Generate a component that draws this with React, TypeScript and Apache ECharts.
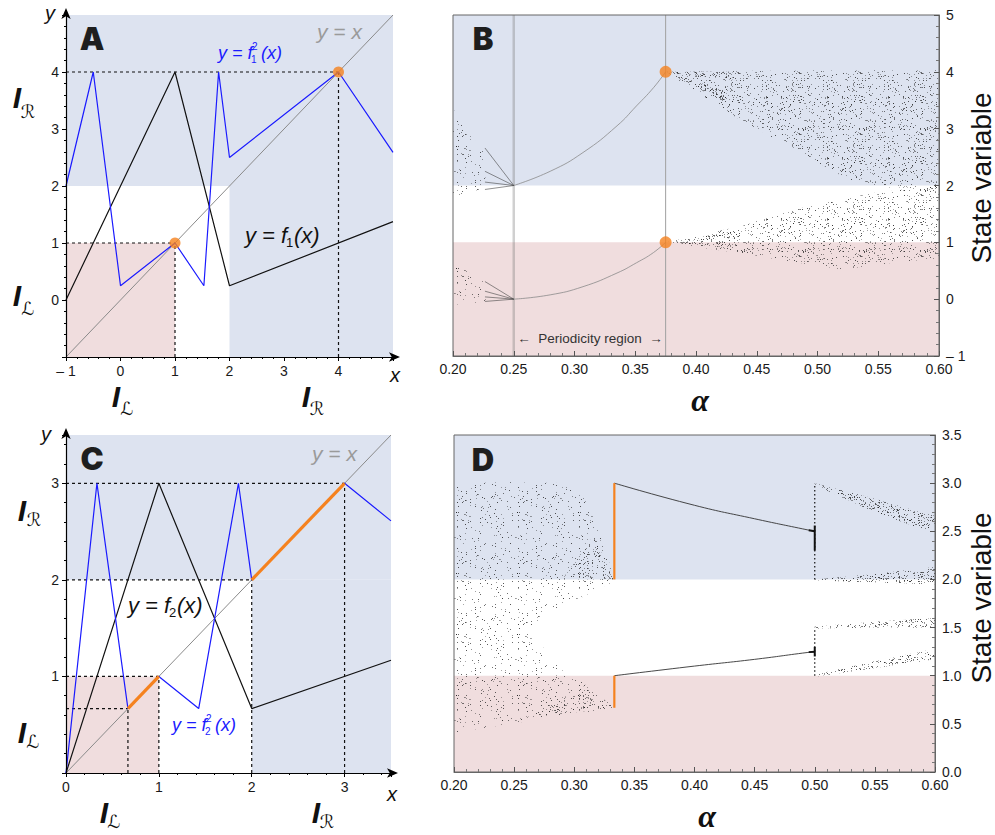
import React, { useEffect, useRef } from 'react';
import * as echarts from 'echarts';

// ---------- Panel A data ----------
const f1Pts = [[-1, 0], [1, 4], [2, 0.25], [5, 1.375]];
const f1sqPts = [[-1, 2], [-0.5, 4], [0, 0.25], [1, 1], [1.53, 0.25], [1.8, 4], [2, 2.5], [4, 4], [5, 2.59]];
const diagA = [[-1, -1], [5, 5]];
const dashA = [[[-1, 4], [4, 4]], [[4, -1], [4, 4]], [[-1, 1], [1, 1]], [[1, -1], [1, 1]]];
const fixedA = [[1, 1], [4, 4]];
const shadeA = [[-1, 2, 5, 5, 0], [2, -1, 5, 2, 0], [-1, -1, 1, 1, 1]];

// ---------- Panel C data ----------
const f2Pts = [[0, 0], [1, 3], [2, 0.667], [3.5, 1.167]];
const f2sqPts = [[0, 0], [0.333, 3], [0.667, 0.667], [1, 1], [1.429, 0.667], [1.857, 3], [2, 2], [3, 3], [3.5, 2.611]];
const diagC = [[0, 0], [3.5, 3.5]];
const dashC = [[[0, 3], [3, 3]], [[3, 0], [3, 3]], [[0, 2], [2, 2]], [[2, 0], [2, 2]], [[0, 1], [1, 1]], [[1, 0], [1, 1]], [[0, 0.667], [0.667, 0.667]], [[0.667, 0], [0.667, 0.667]]];
const orangeC = [[[0.667, 0.667], [1, 1]], [[2, 2], [3, 3]]];
const shadeC = [[0, 2, 3.5, 3.5, 0], [2, 0, 3.5, 2, 0], [0, 0, 1, 1, 1]];

// ---------- Panel B data ----------
const shadeB = [[0.2, 2, 0.6, 5, 0], [0.2, -1, 0.6, 1, 1]];
const vlinesB = [[[0.25, -1], [0.25, 5]], [[0.375, -1], [0.375, 5]]];
const curveBU = [[0.25, 2], [0.28, 2.25], [0.307, 2.58], [0.335, 3.05], [0.351, 3.4], [0.365, 3.72], [0.375, 4]];
const curveBL = [[0.25, 0], [0.28, 0.076], [0.307, 0.22], [0.335, 0.46], [0.351, 0.64], [0.365, 0.82], [0.375, 1]];
const fanBU = [[0.2263, 2.66], [0.2263, 2.25], [0.2263, 2.06], [0.2263, 1.93]];
const fanBUEnd = [0.25, 2];
const fanBL = [[0.2263, 0.31], [0.2263, 0.14], [0.2263, 0.04], [0.2263, -0.04]];
const fanBLEnd = [0.25, 0];
const cloudBUL = [[0.2, 3.34], [0.206, 3.22], [0.214, 2.87], [0.226, 2.62], [0.227, 1.95], [0.2, 1.81]];
const cloudBLL = [[0.2, 0.69], [0.207, 0.58], [0.214, 0.45], [0.226, 0.31], [0.227, -0.04], [0.2, -0.1]];
const cloudBUR = [[0.375, 4.0], [0.45, 4.02], [0.52, 4.03], [0.6, 4.03], [0.6, 1.95], [0.555, 1.97], [0.53, 2.05], [0.491, 2.52], [0.436, 3.16]];
const cloudBLR = [[0.375, 1.0], [0.436, 1.28], [0.491, 1.63], [0.546, 1.87], [0.584, 1.96], [0.6, 2.0], [0.6, 0.72], [0.584, 0.69], [0.546, 0.6], [0.521, 0.52], [0.491, 0.62], [0.436, 0.81]];
const denseB = [
  [[0.375, 4], [0.43, 4.0], [0.43, 3.86]],
  [[0.375, 4], [0.425, 3.66], [0.425, 3.45]],
  [[0.375, 1], [0.435, 1.2], [0.435, 1.08]],
  [[0.375, 1], [0.435, 1.0], [0.435, 0.9]],
];
const dotsB = [[0.375, 4], [0.375, 1]];

// ---------- Panel D data ----------
const shadeD = [[0.2, 2, 0.6, 3.5, 0], [0.2, 0, 0.6, 1, 1]];
const cloudDU = [[0.2, 3.0], [0.25, 3.01], [0.3, 3.0], [0.315, 2.7], [0.325, 2.35], [0.3333, 2.0], [0.2, 2.0]];
const cloudDM = [[0.2, 2.0], [0.333, 2.0], [0.3297, 1.96], [0.28, 1.65], [0.2577, 1.47], [0.28, 1.23], [0.2937, 1.0], [0.2, 1.0]];
const cloudDL = [[0.2, 1.0], [0.3, 1.0], [0.315, 0.85], [0.3333, 0.667], [0.2, 0.41]];
const mediumD = [
  [[0.26, 0.56], [0.31, 0.9], [0.3333, 0.667]],
  [[0.29, 2.0], [0.316, 2.45], [0.3333, 2.0]],
];
const denseD = [
  [[0.5, 3.0], [0.546, 2.85], [0.5875, 2.7], [0.6, 2.66], [0.6, 2.5], [0.5875, 2.53], [0.546, 2.72], [0.5, 2.98]],
  [[0.5, 2.0], [0.546, 2.05], [0.6, 2.13], [0.6, 1.95], [0.546, 1.97], [0.5, 1.99]],
  [[0.5, 1.51], [0.55, 1.56], [0.6, 1.6], [0.6, 1.5], [0.55, 1.5], [0.5, 1.49]],
  [[0.5, 1.01], [0.55, 1.15], [0.6, 1.28], [0.6, 1.17], [0.55, 1.08], [0.5, 0.99]],
];
const lineDU = [[0.3333, 3.0], [0.4, 2.77], [0.45, 2.63], [0.49, 2.525], [0.5, 2.5]];
const lineDL = [[0.3333, 1.0], [0.4, 1.1], [0.45, 1.17], [0.49, 1.235], [0.5, 1.25]];
const dottedD = [[[0.5, 2.0], [0.5, 3.0]], [[0.5, 1.0], [0.5, 1.5]]];
const thickD = [[[0.5, 2.3], [0.5, 2.56]], [[0.5, 1.2], [0.5, 1.3]], [[0.495, 2.51], [0.5, 2.5]], [[0.495, 1.245], [0.5, 1.25]]];
const orangeD = [[[1 / 3, 2], [1 / 3, 3]], [[1 / 3, 0.667], [1 / 3, 1]]];

// ---------- tick settings ----------
const alphaTicks = [0.2, 0.6, 0.05];

const BLUE_BG = '#dde3f0';
const PINK_BG = '#f0ddde';
const ORANGE = '#f5821f';
const CURVE_BLUE = '#1a1aff';
const SHADE_COLORS = [BLUE_BG, PINK_BG];

// stipple texture (style only): hashed pixel positions inside a tile
function makePattern(n: number, size: number, alpha: number, seed: number): string {
  const c = document.createElement('canvas');
  c.width = size;
  c.height = size;
  const ctx = c.getContext('2d')!;
  for (let i = 0; i < n; i++) {
    let h = Math.imul(i + seed * 977 + 1, 2654435761) >>> 0;
    h ^= h >>> 15;
    h = Math.imul(h, 2246822519) >>> 0;
    h ^= h >>> 13;
    h = Math.imul(h, 3266489917) >>> 0;
    h ^= h >>> 16;
    const x = h % size;
    const y = Math.floor(h / size) % size;
    const a = alpha * (0.45 + ((h >>> 24) % 55) / 100);
    ctx.fillStyle = `rgba(30,30,30,${a.toFixed(3)})`;
    ctx.fillRect(x, y, 1, 1);
  }
  return c.toDataURL();
}

function buildOption() {
  const S = 61;
  const patterns = [
    { image: makePattern(300, S, 0.8, 1), repeat: 'repeat', imageWidth: S, imageHeight: S },
    { image: makePattern(620, S, 0.8, 2), repeat: 'repeat', imageWidth: S, imageHeight: S },
    { image: makePattern(1300, S, 0.85, 3), repeat: 'repeat', imageWidth: S, imageHeight: S },
  ];

  const series: any[] = [];
  const base = (g: number) => ({ xAxisIndex: g, yAxisIndex: g, silent: true, animation: false });

  const shadeSeries = (g: number, arr: number[][]) => ({
    ...base(g),
    type: 'custom',
    z: 1,
    data: arr.map((r) => [r[0], r[1]]),
    renderItem: (params: any, api: any) => {
      const r = arr[params.dataIndex];
      const p0 = api.coord([r[0], r[1]]);
      const p1 = api.coord([r[2], r[3]]);
      return {
        type: 'rect',
        shape: { x: Math.min(p0[0], p1[0]), y: Math.min(p0[1], p1[1]), width: Math.abs(p1[0] - p0[0]), height: Math.abs(p1[1] - p0[1]) },
        style: { fill: SHADE_COLORS[r[4]] },
      };
    },
  });

  const polySeries = (g: number, polys: number[][][], dens: number, z = 2) => ({
    ...base(g),
    type: 'custom',
    z,
    data: polys.map((p) => [p[0][0], p[0][1]]),
    renderItem: (params: any, api: any) => {
      const pts = polys[params.dataIndex].map((p) => api.coord(p));
      return { type: 'polygon', shape: { points: pts }, style: { fill: patterns[dens] as any, stroke: 'none' } };
    },
  });

  const line = (g: number, pts: number[][], color: string, width: number, z = 3, type: any = 'solid', smooth = false) => ({
    ...base(g),
    type: 'line',
    data: pts,
    symbol: 'none',
    smooth,
    z,
    lineStyle: { color, width, type },
  });

  // Panel A
  series.push(shadeSeries(0, shadeA));
  dashA.forEach((s) => series.push(line(0, s, '#111', 1.2, 3, [3, 3])));
  series.push(line(0, diagA, '#8a8a8a', 1, 3));
  series.push(line(0, f1Pts, '#111', 1.2, 4));
  series.push(line(0, f1sqPts, CURVE_BLUE, 1.2, 4));
  series.push({ ...base(0), type: 'scatter', data: fixedA, symbolSize: 11, itemStyle: { color: ORANGE }, z: 6 });

  // Panel C
  series.push(shadeSeries(2, shadeC));
  dashC.forEach((s) => series.push(line(2, s, '#111', 1.2, 3, [3, 3])));
  series.push(line(2, diagC, '#8a8a8a', 1, 3));
  series.push(line(2, f2Pts, '#111', 1.2, 4));
  series.push(line(2, f2sqPts, CURVE_BLUE, 1.2, 4));
  orangeC.forEach((s) => series.push(line(2, s, ORANGE, 3.2, 5)));

  // Panel B
  series.push(shadeSeries(1, shadeB));
  series.push(polySeries(1, [cloudBUL, cloudBLL], 0));
  series.push(polySeries(1, [cloudBUR, cloudBLR], 1));
  series.push(polySeries(1, denseB, 2));
  series.push(line(1, vlinesB[0], 'rgba(120,120,120,0.35)', 2.5, 3));
  series.push(line(1, vlinesB[1], '#a0a0a0', 1, 3));
  series.push(line(1, curveBU, '#8a8a8a', 0.8, 4, 'solid', true));
  series.push(line(1, curveBL, '#8a8a8a', 0.8, 4, 'solid', true));
  fanBU.forEach((p) => series.push(line(1, [p, fanBUEnd], '#444', 0.6, 4)));
  fanBL.forEach((p) => series.push(line(1, [p, fanBLEnd], '#444', 0.6, 4)));
  series.push({ ...base(1), type: 'scatter', data: dotsB, symbolSize: 12, itemStyle: { color: ORANGE }, z: 6 });

  // Panel D
  series.push(shadeSeries(3, shadeD));
  series.push(polySeries(3, [cloudDU, cloudDM, cloudDL], 0));
  series.push(polySeries(3, mediumD, 1));
  series.push(polySeries(3, denseD, 2));
  series.push(line(3, lineDU, '#333', 0.9, 4, 'solid', true));
  series.push(line(3, lineDL, '#333', 0.9, 4, 'solid', true));
  dottedD.forEach((s) => series.push(line(3, s, '#111', 1.2, 4, [1.5, 2.5])));
  thickD.forEach((s) => series.push(line(3, s, '#111', 2, 4)));
  orangeD.forEach((s) => series.push(line(3, s, ORANGE, 2.2, 5)));

  const labelFont = { fontFamily: 'Liberation Sans', fontSize: 14, color: '#1a1a1a' };

  const arrowAxis = (g: number, min: number, max: number, fmt: (v: number) => string) => ({
    gridIndex: g,
    type: 'value',
    min,
    max,
    interval: 1,
    z: 10,
    axisLine: {
      onZero: false,
      lineStyle: { color: '#000', width: 1.2 },
      symbol: ['none', 'arrow'],
      symbolSize: [7, 11],
      symbolOffset: [0, 7],
    },
    axisTick: { show: true, length: 4, lineStyle: { color: '#000' } },
    minorTick: { show: true, splitNumber: 5, length: 2, lineStyle: { color: '#000' } },
    splitLine: { show: false },
    axisLabel: { ...labelFont, formatter: fmt, margin: 7 },
  });

  const frameX = (g: number) => ({
    gridIndex: g,
    type: 'value',
    min: alphaTicks[0],
    max: alphaTicks[1],
    interval: alphaTicks[2],
    z: 10,
    axisLine: { onZero: false, lineStyle: { color: '#666', width: 1 } },
    axisTick: { inside: true, length: 5, lineStyle: { color: '#555' } },
    minorTick: { show: true, splitNumber: 5, length: 3, lineStyle: { color: '#777' } },
    splitLine: { show: false },
    axisLabel: { ...labelFont, margin: 6, formatter: (v: number) => v.toFixed(2) },
  });

  const frameY = (g: number, min: number, max: number, interval: number, fmt: (v: number) => string) => ({
    gridIndex: g,
    type: 'value',
    position: 'right',
    min,
    max,
    interval,
    z: 10,
    axisLine: { onZero: false, lineStyle: { color: '#666', width: 1 } },
    axisTick: { inside: true, length: 5, lineStyle: { color: '#555' } },
    minorTick: { show: true, splitNumber: 5, length: 3, lineStyle: { color: '#777' } },
    splitLine: { show: false },
    axisLabel: { ...labelFont, margin: 7, formatter: fmt },
  });

  const T = (x: number, y: number, text: string, o: any = {}) => ({
    type: 'text',
    x,
    y,
    rotation: o.rot || 0,
    silent: true,
    z: 50,
    style: {
      text,
      fontSize: o.size || 14,
      fill: o.color || '#111',
      fontFamily: o.font || 'Liberation Sans',
      fontStyle: o.italic ? 'italic' : 'normal',
      fontWeight: o.weight || 'normal',
      align: o.align || 'left',
      verticalAlign: 'middle',
    },
  });

  const Ilabel = (x: number, y: number, sub: string, sx: number, sy: number) => [
    T(x, y, 'I', { size: 30, weight: 'bold', italic: true, align: 'center', color: '#111' }),
    T(sx, sy, sub, { size: 18, font: 'DejaVu Sans', align: 'center', color: '#111' }),
  ];

  const letter = (x: number, y: number, s: string) => T(x, y, s, { size: 31, weight: 900, font: 'Inter', align: 'center', color: '#1e1e1e' });

  const elements: any[] = [
    letter(92, 38, 'A'),
    letter(483, 38, 'B'),
    letter(92, 458, 'C'),
    letter(483, 459, 'D'),
    T(50, 13, 'y', { size: 20, italic: true, align: 'center' }),
    T(395, 375, 'x', { size: 20, italic: true, align: 'center' }),
    T(46, 434, 'y', { size: 20, italic: true, align: 'center' }),
    T(392, 794, 'x', { size: 20, italic: true, align: 'center' }),
    T(317, 31, 'y = x', { size: 21, italic: true, color: '#9a9a9a' }),
    T(312, 453, 'y = x', { size: 21, italic: true, color: '#9a9a9a' }),
    T(218, 53, 'y = f', { size: 18, italic: true, color: CURVE_BLUE }),
    T(251, 59, '1', { size: 10, color: CURVE_BLUE }),
    T(252, 46, '2', { size: 10, color: CURVE_BLUE }),
    T(261, 53, '(x)', { size: 18, italic: true, color: CURVE_BLUE }),
    T(245, 235, 'y = f', { size: 22, italic: true }),
    T(286, 242, '1', { size: 13 }),
    T(294, 235, '(x)', { size: 22, italic: true }),
    T(128, 605, 'y = f', { size: 22, italic: true }),
    T(169, 612, '2', { size: 13 }),
    T(177, 605, '(x)', { size: 22, italic: true }),
    T(172, 725, 'y = f', { size: 18, italic: true, color: CURVE_BLUE }),
    T(205, 731, '2', { size: 10, color: CURVE_BLUE }),
    T(206, 718, '2', { size: 10, color: CURVE_BLUE }),
    T(215, 725, '(x)', { size: 18, italic: true, color: CURVE_BLUE }),
    ...Ilabel(17, 97, '\u211B', 28, 111),
    ...Ilabel(17, 295, '\u2112', 28, 308),
    ...Ilabel(116, 396, '\u2112', 127, 408),
    ...Ilabel(306, 396, '\u211B', 317, 408),
    ...Ilabel(22, 510, '\u211B', 34, 519),
    ...Ilabel(22, 732, '\u2112', 33, 741),
    ...Ilabel(104, 812, '\u2112', 114, 821),
    ...Ilabel(316, 812, '\u211B', 327, 821),
    T(590, 338, '\u2190  Periodicity region  \u2192', { size: 13.5, align: 'center', color: '#333' }),
    T(981, 178, 'State variable', { size: 28, align: 'center', rot: Math.PI / 2, color: '#111' }),
    T(981, 598, 'State variable', { size: 28, align: 'center', rot: Math.PI / 2, color: '#111' }),
    T(700, 400, '\u03B1', { size: 32, font: 'Liberation Serif', italic: true, weight: 'bold', align: 'center' }),
    T(707, 816, '\u03B1', { size: 32, font: 'Liberation Serif', italic: true, weight: 'bold', align: 'center' }),
  ];

  return {
    animation: false,
    backgroundColor: '#ffffff',
    grid: [
      { left: 66, top: 15, width: 327, height: 342, show: false },
      { left: 453, top: 15, width: 486, height: 341, show: true, borderColor: '#666', borderWidth: 1, backgroundColor: 'transparent', z: 9 },
      { left: 66, top: 435, width: 325, height: 338, show: false },
      { left: 454, top: 435, width: 481, height: 337, show: true, borderColor: '#666', borderWidth: 1, backgroundColor: 'transparent', z: 9 },
    ],
    xAxis: [
      arrowAxis(0, -1, 5, (v: number) => (v > 4.5 ? '' : v === -1 ? '\u2013 1' : String(v))),
      frameX(1),
      arrowAxis(2, 0, 3.5, (v: number) => (v > 3.01 ? '' : String(v))),
      frameX(3),
    ],
    yAxis: [
      arrowAxis(0, -1, 5, (v: number) => (v < -0.5 || v > 4.5 ? '' : String(v))),
      frameY(1, -1, 5, 1, (v: number) => (v < 0 ? '\u2013 1' : String(v))),
      arrowAxis(2, 0, 3.5, (v: number) => (v < 0.5 || v > 3.01 ? '' : String(v))),
      frameY(3, 0, 3.5, 0.5, (v: number) => v.toFixed(1)),
    ],
    series,
    graphic: { elements },
  };
}

export default function App() {
  const ref = useRef<HTMLDivElement>(null);
  useEffect(() => {
    const chart = echarts.init(ref.current!, null, { renderer: 'svg' });
    chart.setOption(buildOption() as any);
    return () => chart.dispose();
  }, []);
  return <div ref={ref} style={{ position: 'fixed', left: 0, top: 0, width: 995, height: 835, background: '#fff' }} />;
}
